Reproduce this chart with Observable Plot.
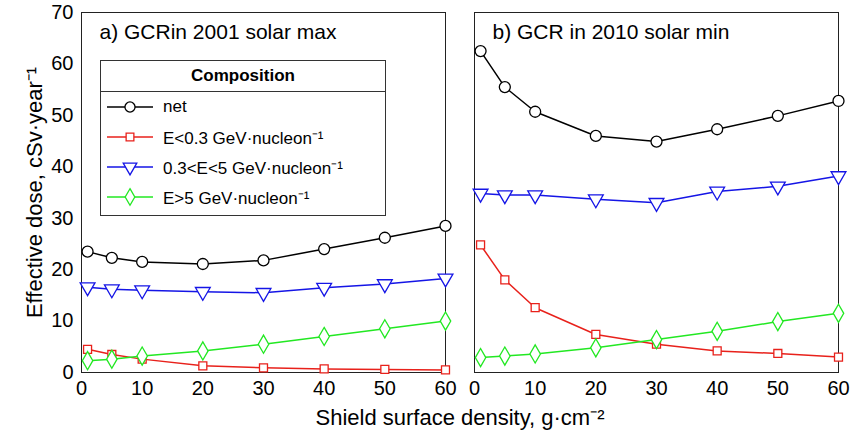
<!DOCTYPE html>
<html><head><meta charset="utf-8">
<script src="https://cdn.jsdelivr.net/npm/d3@7"></script>
<script src="https://cdn.jsdelivr.net/npm/@observablehq/plot@0.6"></script>
<style>
body{margin:0;background:#fff;font-family:Arial,"Liberation Sans",sans-serif}
#wrap{position:relative;width:862px;height:438px}
#leg{position:absolute;left:100px;top:60px;width:284px;height:154px;border:1px solid #333;background:#fff;font-size:17px}
#leg .h{text-align:center;font-weight:bold;height:30px;line-height:30px;border-bottom:1px solid #333}
#leg .r{display:flex;align-items:center;height:30px}
#leg svg{margin:0 8px 0 4px}
</style></head><body>
<div id="wrap"><div id="chart"></div>
<div id="leg"><div class="h">Composition</div></div></div>
<script>
const shield=[1,5,10,20,30,40,50,60];
const panels=["a","b"];
const titles=["a) GCRin 2001 solar max","b) GCR in 2010 solar min"];
const seriesNames=["net","E<0.3 GeV·nucleon⁻¹","0.3<E<5 GeV·nucleon⁻¹","E>5 GeV·nucleon⁻¹"];
const colors=["#000000","#e8211b","#1515e6","#22e822"];
const symbols=["circle","square","triangle","diamond"];
const rotates=[0,0,180,0];
const netA=[23.5,22.3,21.5,21.1,21.8,24,26.2,28.5];
const lowA=[4.5,3.5,2.6,1.3,0.9,0.7,0.6,0.5];
const midA=[16.6,16.2,16,15.7,15.5,16.5,17.2,18.3];
const highA=[2.3,2.6,3.2,4.2,5.5,7,8.5,10];
const netB=[62.5,55.5,50.7,46,44.9,47.3,49.9,52.8];
const lowB=[24.8,18,12.6,7.4,5.5,4.2,3.7,3];
const midB=[34.8,34.5,34.5,33.7,33,35.2,36.2,38.2];
const highB=[2.9,3.2,3.6,4.8,6.4,8,9.9,11.5];
const all=[[netA,lowA,midA,highA],[netB,lowB,midB,highB]];
const data=[];
all.forEach((ps,pi)=>ps.forEach((vals,si)=>vals.forEach((v,i)=>data.push({panel:panels[pi],s:si,x:shield[i],y:v}))));
const marks=[Plot.frame({stroke:"#222"})];
for(let s=0;s<4;s++){
  const d=data.filter(e=>e.s===s);
  marks.push(Plot.line(d,{x:"x",y:"y",fx:"panel",stroke:colors[s],strokeWidth:1.5}));
  marks.push(Plot.dot(d,{x:"x",y:"y",fx:"panel",stroke:colors[s],fill:"white",symbol:()=>symbols[s],r:s==3?5.5:(s==1?4.5:5.5),rotate:rotates[s],strokeWidth:1.3}));
}
marks.push(Plot.text(panels.map((p,i)=>({panel:p,t:titles[i]})),{fx:"panel",text:"t",frameAnchor:"top-left",dx:18,dy:12,fontSize:21,textAnchor:"start"}));
const p=Plot.plot({width:862,height:438,marginLeft:80,marginRight:24,marginTop:12,marginBottom:66,
 style:{fontSize:"20px",fontFamily:"Arial, Liberation Sans, sans-serif"},
 fx:{padding:0.075,axis:null},
 x:{domain:[0,60],ticks:[0,10,20,30,40,50,60],tickSize:0,tickPadding:8,label:"Shield surface density, g·cm⁻²",labelAnchor:"center",labelOffset:52,labelArrow:"none"},
 y:{domain:[0,70],ticks:[0,10,20,30,40,50,60,70],tickSize:0,tickPadding:8,label:"Effective dose, cSv·year⁻¹",labelAnchor:"center",labelOffset:55,labelArrow:"none"},
 marks});
document.getElementById("chart").append(p);
d3.select(p).selectAll("g[aria-label='x-axis label'] text,g[aria-label='y-axis label'] text").style("font-size","22px");
const leg=document.getElementById("leg");
const sy={circle:d3.symbolCircle,square:d3.symbolSquare,triangle:d3.symbolTriangle,diamond:d3.symbolDiamond};
seriesNames.forEach((n,s)=>{
  const r=document.createElement("div");r.className="r";
  const path=d3.symbol(sy[symbols[s]],s==1?60:80)();
  r.innerHTML=`<svg width="50" height="20"><line x1="2" x2="48" y1="10" y2="10" stroke="${colors[s]}" stroke-width="1.5"/><path d="${path}" transform="translate(25,10) rotate(${rotates[s]})" fill="white" stroke="${colors[s]}" stroke-width="1.3"/></svg>`;
  const sp=document.createElement("span");sp.textContent=n;r.append(sp);
  leg.append(r);
});
</script></body></html>
